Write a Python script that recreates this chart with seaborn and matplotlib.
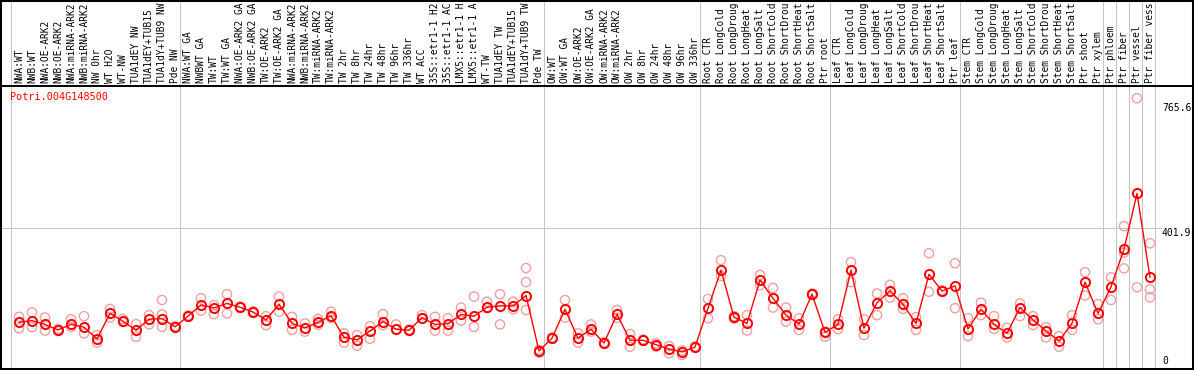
import numpy as np
import pandas as pd
import matplotlib
matplotlib.use("Agg")
import matplotlib.pyplot as plt
from matplotlib.patches import Rectangle
import matplotlib.transforms as mtransforms
import seaborn as sns

gene = "Potri.004G148500"

labels = [
    "NWA:WT", "NWB:WT", "NWA:OE-ARK2", "NWB:OE-ARK2", "NWA:miRNA-ARK2", "NWB:miRNA-ARK2",
    "NW 0hr", "WT H2O", "WT-NW", "TUA1dEY NW", "TUA1dEY+TUB15", "TUA1dY+TUB9 NW", "Pde NW",
    "NWA:WT GA", "NWBWT GA", "TW:WT", "TW:WT GA", "NWA:OE-ARK2 GA", "NWB:OE-ARK2 GA",
    "TW:OE-ARK2", "TW:OE-ARK2 GA", "NWA:miRNA-ARK2", "NWB:miRNA-ARK2", "TW:miRNA-ARK2",
    "TW:miRNA-ARK2", "TW 2hr", "TW 8hr", "TW 24hr", "TW 48hr", "TW 96hr", "TW 336hr",
    "WT ACC", "35S::etr1-1 H2", "35S::etr1-1 AC", "LMX5::etr1-1 H", "LMX5::etr1-1 A",
    "WT-TW", "TUA1dEY TW", "TUA1dEY+TUB15", "TUA1dY+TUB9 TW", "Pde TW",
    "OW:WT", "OW:WT GA", "OW:OE-ARK2", "OW:OE-ARK2 GA", "OW:miRNA-ARK2", "OW:miRNA-ARK2",
    "OW 2hr", "OW 8hr", "OW 24hr", "OW 48hr", "OW 96hr", "OW 336hr",
    "Root CTR", "Root LongCold", "Root LongDroug", "Root LongHeat", "Root LongSalt",
    "Root ShortCold", "Root ShortDrou", "Root ShortHeat", "Root ShortSalt", "Ptr root",
    "Leaf CTR", "Leaf LongCold", "Leaf LongDroug", "Leaf LongHeat", "Leaf LongSalt",
    "Leaf ShortCold", "Leaf ShortDrou", "Leaf ShortHeat", "Leaf ShortSalt", "Ptr leaf",
    "Stem CTR", "Stem LongCold", "Stem LongDroug", "Stem LongHeat", "Stem LongSalt",
    "Stem ShortCold", "Stem ShortDrou", "Stem ShortHeat", "Stem ShortSalt", "Ptr shoot",
    "Ptr xylem", "Ptr phloem", "Ptr fiber", "Ptr vessel", "Ptr fiber vess",
]

means = [
    127, 132, 121, 105, 121, 113, 79, 153, 130, 104, 136, 138, 114,
    145, 178, 169, 182, 171, 157, 134, 180, 124, 111, 127, 146, 84, 76, 102, 129,
    107, 104, 141, 121, 123, 150, 145, 171, 175, 175, 205, 44,
    81, 165, 81, 107, 67, 150, 75, 75, 62, 49, 41, 55,
    168, 279, 142, 124, 250, 197, 148, 122, 209, 98,
    121, 279, 110, 184, 219, 179, 124, 267, 218, 233,
    108, 165, 121, 95, 170, 134, 102, 73, 124, 244,
    153, 230, 340, 502, 258,
]

rep_a = [
    143, 156, 141, 108, 136, 145, 90, 166, 137, 122, 148, 192, 116,
    147, 197, 177, 209, 173, 159, 145, 202, 143, 124, 137, 158, 95, 90, 116, 151,
    121, 106, 148, 143, 139, 170, 202, 187, 209, 187, 285, 39,
    83, 192, 95, 121, 69, 163, 93, 77, 66, 58, 32, 57,
    195, 308, 145, 148, 265, 227, 170, 139, 211, 85,
    136, 302, 136, 211, 236, 197, 142, 328, 220, 299,
    139, 184, 145, 111, 182, 145, 113, 87, 148, 273,
    180, 258, 407, 779, 357,
]

rep_b = [
    110, 113, 103, 102, 114, 95, 68, 141, 128, 85, 121, 150, 112,
    143, 161, 151, 153, 169, 155, 119, 158, 105, 100, 120, 140, 68, 59, 79, 119,
    105, 102, 138, 103, 103, 132, 114, 168, 121, 165, 244, 47,
    79, 141, 68, 100, 65, 140, 56, 73, 56, 37, 45, 53,
    139, 262, 138, 103, 235, 170, 129, 105, 207, 100,
    107, 244, 90, 148, 199, 166, 105, 216, 216, 168,
    87, 148, 108, 83, 145, 119, 83, 56, 105, 205,
    136, 192, 330, 229, 223,
]

nan = np.nan
rep_c = [nan] * 88
rep_c[11] = 114
rep_c[39] = 163
rep_c[85] = 284
rep_c[87] = 200

group_starts = [0, 13, 41, 53, 63, 73, 84, 85, 86, 87, 88]
tick_values = [765.6, 401.9, 0]
tick_labels = ["765.6", "401.9", "0"]

# ---------------------------------------------------------------
W, H = 1194, 370
PX_COL, X0 = 13.0, 19.0          # pixels per column, centre of first column
PX_UNIT, Y0 = 0.3437, 366.0      # pixels per unit, pixel row of value 0
STRIP = 86                       # height of label strip in pixels

sns.set_theme(style="white")
plt.rcParams["font.family"] = ["DejaVu Sans Mono", "DejaVu Sans"]

fig = plt.figure(figsize=(W / 100, H / 100), dpi=100)
fig.patch.set_facecolor("white")

ax_lab = fig.add_axes([0, 1 - STRIP / H, 1, STRIP / H])
ax = fig.add_axes([0, 1 - 369 / H, 1, (369 - STRIP) / H])

xlim = (-X0 / PX_COL, (W - X0) / PX_COL)
for a in (ax, ax_lab):
    a.set_xlim(*xlim)
    a.set_facecolor("white")
    for s in a.spines.values():
        s.set_visible(False)
    a.set_xticks([])
    a.set_yticks([])
    a.set_xlabel("")
    a.set_ylabel("")
ax.set_ylim((Y0 - 369) / PX_UNIT, (Y0 - STRIP) / PX_UNIT)
ax_lab.set_ylim(0, 1)

grey = "#c4c4c4"
lw1 = 72 / 100  # one pixel
for m in group_starts:
    for a in (ax, ax_lab):
        a.axvline(m - 0.65, color=grey, lw=lw1, zorder=0)
ax.axhline(401.9, xmin=0, xmax=1162 / W, color=grey, lw=lw1, zorder=0)

# data
pos = np.arange(len(means))
df_mean = pd.DataFrame({"pos": pos, "value": means})
df_rep = pd.DataFrame({
    "pos": np.concatenate([pos, pos, pos]),
    "value": np.concatenate([rep_a, rep_b, rep_c]),
}).dropna()

sns.scatterplot(data=df_rep, x="pos", y="value", ax=ax, marker="o", s=44,
                facecolor="none", edgecolor="#f0a0a0", linewidth=1.0, zorder=2,
                legend=False)
sns.lineplot(data=df_mean, x="pos", y="value", ax=ax, color="red", lw=1.0,
             marker="o", ms=6.6, mfc="none", mec="red", mew=1.4, zorder=3,
             legend=False)
ax.set_xlabel("")
ax.set_ylabel("")
ax.set_xticks([])
ax.set_yticks([])

# column labels (rotated, bottom aligned, clipped to strip)
trans_lab = mtransforms.blended_transform_factory(ax_lab.transData, ax_lab.transAxes)
for i, lab in enumerate(labels):
    ax_lab.text(i, 3 / STRIP, lab, rotation=90, ha="center", va="bottom",
                fontsize=6.85, color="black", transform=trans_lab, clip_on=True)

# right-side value labels
trans_r = mtransforms.blended_transform_factory(ax.transAxes, ax.transData)
for v, s in zip(tick_values, tick_labels):
    ax.text(1162 / W, v, s, ha="left", va="bottom" if v == 0 else "top",
            fontsize=7.0, color="black", transform=trans_r)

fig.text(10 / W, 1 - 97 / H, gene, ha="left", va="center", color="red", fontsize=7.3)

# separators and border
fig.add_artist(plt.Line2D([0, 1], [1 - STRIP / H] * 2, transform=fig.transFigure,
                          color="black", lw=1.4))
fig.add_artist(Rectangle((0, 0), 1, 1, transform=fig.transFigure, fill=False,
                         ec="black", lw=2.9))

fig.savefig("out.png", dpi=100, facecolor="white")
